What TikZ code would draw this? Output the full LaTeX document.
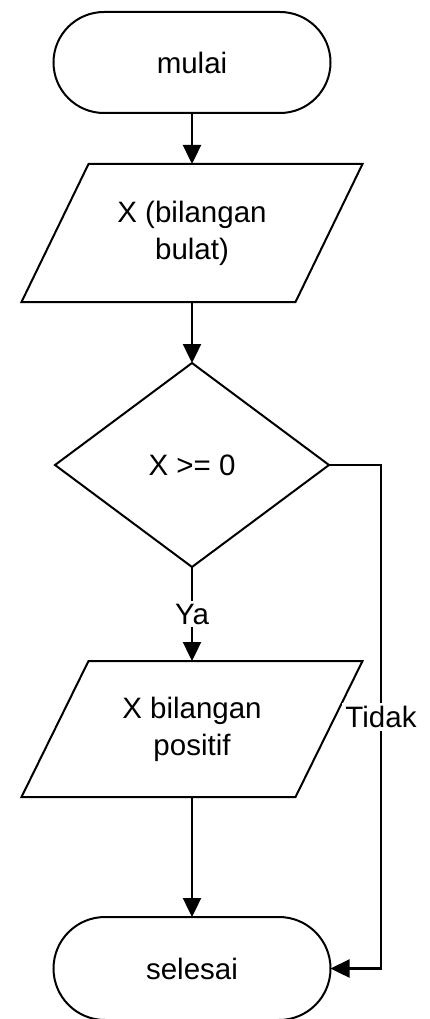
\documentclass[tikz,border=0pt]{standalone}
\usepackage{fontspec}
\setmainfont{Liberation Sans}
\usetikzlibrary{shapes.geometric,shapes.misc,arrows.meta}
\begin{document}
\begin{tikzpicture}[x=1pt,y=-1pt,
  every node/.style={font=\fontsize{29.5}{37}\selectfont, inner sep=0pt, outer sep=0pt},
  term/.style={rounded rectangle, draw, line width=2pt, minimum width=277pt, minimum height=101pt},
  iobox/.style={rectangle, minimum width=274pt, align=center},
  iol/.style={line width=2pt, line join=miter},
  decision/.style={diamond, draw, line width=2pt, minimum width=274pt, minimum height=204pt},
  flow/.style={line width=2.4pt, -{Triangle[length=19pt,width=18pt]}},
  lbl/.style={fill=white, inner sep=3pt},
]
\useasboundingbox (0,0) rectangle (429,1019);

\node[term] (start) at (192,62.5) {mulai};
\node[iobox, minimum height=138pt] (in) at (192,233) {X (bilangan\\bulat)};
\draw[iol] ([xshift=33.5pt]in.north west) -- ([xshift=33.5pt]in.north east)
  -- ([xshift=-33.5pt]in.south east) -- ([xshift=-33.5pt]in.south west) -- cycle;
\node[decision] (dec) at (192,465) {X >= 0};
\node[iobox, minimum height=136pt] (out) at (192,729) {X bilangan\\positif};
\draw[iol] ([xshift=33.5pt]out.north west) -- ([xshift=33.5pt]out.north east)
  -- ([xshift=-33.5pt]out.south east) -- ([xshift=-33.5pt]out.south west) -- cycle;
\node[term, minimum height=103pt] (end) at (192,968.5) {selesai};
\coordinate (tx) at (381,0);

\draw[flow] (start.south) -- (in.north);
\draw[flow] (in.south) -- (dec.north);
\draw[flow] (dec.south) -- node[lbl]{Ya} (out.north);
\draw[flow] (out.south) -- (end.north);
\draw[flow] (dec.east) -- (dec.east -| tx) -- node[lbl]{Tidak} (end.east -| tx) -- (end.east);
\end{tikzpicture}
\end{document}
